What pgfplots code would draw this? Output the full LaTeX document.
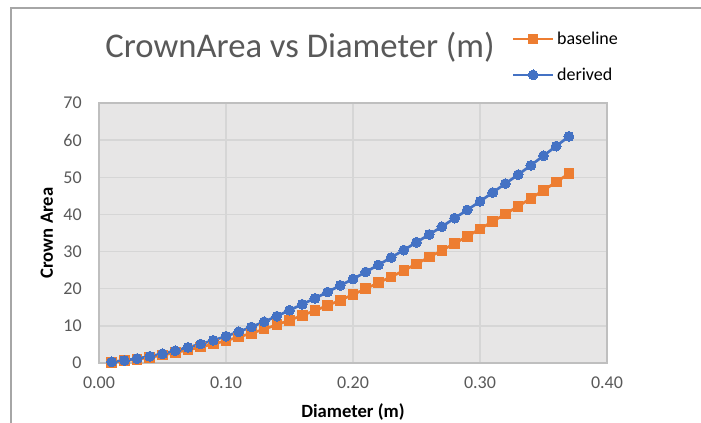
\documentclass[border=0pt]{standalone}
\usepackage{fontspec}
\setmainfont{Carlito}
\usepackage{pgfplots}
\pgfplotsset{compat=1.18}
\definecolor{cOrange}{HTML}{ED7D31}
\definecolor{cBlue}{HTML}{4472C4}
\definecolor{cBg}{HTML}{E7E6E6}
\definecolor{cGrid}{HTML}{D6D6D6}
\definecolor{cTxt}{HTML}{595959}
\definecolor{cFrame}{HTML}{A6A6A6}
\definecolor{cAxis}{HTML}{BFBFBF}
\begin{document}
\begin{tikzpicture}
\useasboundingbox (0,0) rectangle (525.75pt,317.25pt);
\draw[cFrame, line width=1.1pt] (8.25pt,0) -- (8.25pt,311.25pt) -- (525.75pt,311.25pt);
\node[text=cTxt, font=\fontsize{26}{31}\selectfont] at (225pt,281.5pt) {CrownArea vs Diameter (m)};
\begin{axis}[
  at={(74.25pt,45pt)}, anchor=south west,
  scale only axis, width=381pt, height=195pt,
  xmin=0, xmax=0.4, ymin=0, ymax=70,
  xtick={0,0.1,0.2,0.3,0.4}, ytick={0,10,...,70},
  xticklabel style={/pgf/number format/fixed, /pgf/number format/fixed zerofill, /pgf/number format/precision=2},
  /pgf/number format/assume math mode=true,
  tick label style={font=\fontsize{13.5}{16}\selectfont, text=cTxt},
  xticklabel style={yshift=-6.5pt},
  yticklabel style={xshift=-9.5pt},
  major tick length=0pt,
  axis background/.style={fill=cBg},
  axis line style={cAxis, line width=0.8pt},
  grid=major, major grid style={cGrid, line width=1pt},
  xlabel={\textbf{Diameter (m)}}, ylabel={\textbf{Crown Area}},
  label style={font=\fontsize{14}{17}\selectfont},
  xlabel style={yshift=-5pt},
  ylabel style={yshift=1pt},
  legend style={at={(rel axis cs:0.812,1.285)}, anchor=north west, draw=none, fill=none,
    font=\fontsize{13.5}{16}\selectfont, row sep=12pt, inner sep=0pt},
  legend cell align=left,
  legend image code/.code={\draw[#1, mark repeat=2, mark phase=2] plot coordinates {(0pt,0pt) (15pt,0pt) (30pt,0pt)};},
]
\addplot[cOrange, line width=2pt, mark=square*, mark size=3.6pt, mark options={solid, fill=cOrange, draw=cOrange, line width=0pt}] coordinates {
(0.01,0.2) (0.02,0.6) (0.03,1.0) (0.04,1.5) (0.05,2.1) (0.06,2.8) (0.07,3.5) (0.08,4.3) (0.09,5.1) (0.10,6.0)
(0.11,7.0) (0.12,8.0) (0.13,9.1) (0.14,10.3) (0.15,11.5) (0.16,12.8) (0.17,14.1) (0.18,15.5) (0.19,16.9) (0.20,18.4)
(0.21,20.0) (0.22,21.6) (0.23,23.2) (0.24,24.9) (0.25,26.7) (0.26,28.5) (0.27,30.3) (0.28,32.2) (0.29,34.1) (0.30,36.1)
(0.31,38.1) (0.32,40.1) (0.33,42.2) (0.34,44.3) (0.35,46.5) (0.36,48.7) (0.37,51.0)};
\addlegendentry{baseline}
\addplot[cBlue, line width=2pt, mark=*, mark size=3.7pt, mark options={solid, fill=cBlue, draw=cBlue, line width=0pt}] coordinates {
(0.01,0.3) (0.02,0.7) (0.03,1.2) (0.04,1.8) (0.05,2.5) (0.06,3.3) (0.07,4.2) (0.08,5.1) (0.09,6.1) (0.10,7.2)
(0.11,8.4) (0.12,9.7) (0.13,11.1) (0.14,12.6) (0.15,14.2) (0.16,15.8) (0.17,17.4) (0.18,19.1) (0.19,20.9) (0.20,22.6)
(0.21,24.5) (0.22,26.4) (0.23,28.4) (0.24,30.4) (0.25,32.5) (0.26,34.6) (0.27,36.7) (0.28,39.0) (0.29,41.2) (0.30,43.5)
(0.31,45.9) (0.32,48.3) (0.33,50.7) (0.34,53.2) (0.35,55.8) (0.36,58.4) (0.37,61.0)};
\addlegendentry{derived}
\end{axis}
\end{tikzpicture}
\end{document}
